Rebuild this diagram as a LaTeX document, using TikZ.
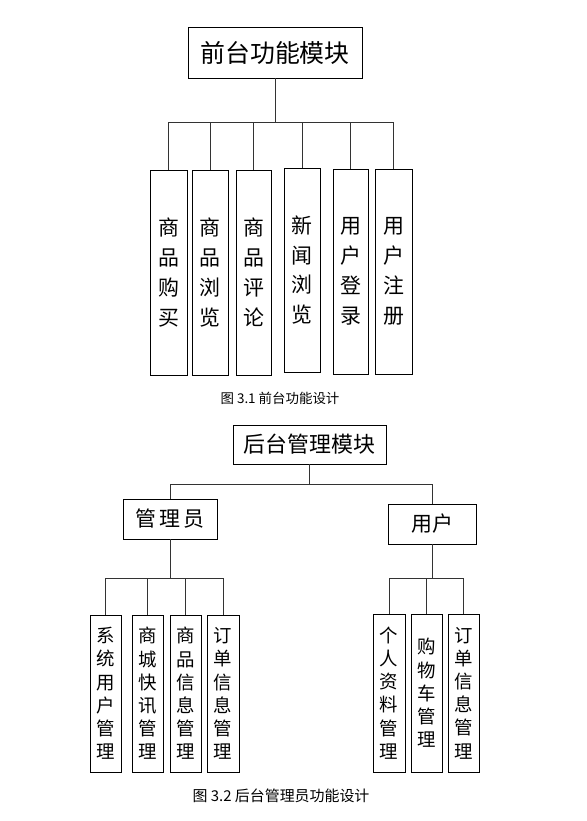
\documentclass[tikz,border=0pt]{standalone}
\usepackage{fontspec}
\newfontfamily\cjk{Noto Sans CJK SC}
\begin{document}
\begin{tikzpicture}[x=1bp,y=-1bp,
  box/.style={draw=black,line width=0.8bp,inner sep=0pt,font=\cjk,align=center},
  vbox/.style={box,font={\cjk\fontsize{21}{30}\selectfont}},
  sbox/.style={box,font={\cjk\fontsize{18.5}{23.3}\selectfont}},
  wire/.style={draw=black!80,line width=0.8bp},
  captext/.style={font=\cjk,inner sep=0pt}]
\useasboundingbox (0,0) rectangle (587,821);
\fill[white] (0,0) rectangle (587,821);
% ---------- front module
\node[box,minimum width=174bp,minimum height=51bp,font={\cjk\fontsize{25}{30}\selectfont}] (top) at (275,52.5) {前台功能模块};
\node[vbox,minimum width=37bp,minimum height=205bp] (c1) at (168.5,272.5) {商\\品\\购\\买};
\node[vbox,minimum width=36bp,minimum height=205bp] (c2) at (210,272.5) {商\\品\\浏\\览};
\node[vbox,minimum width=35bp,minimum height=205bp] (c3) at (253.5,272.5) {商\\品\\评\\论};
\node[vbox,minimum width=36bp,minimum height=204bp] (c4) at (302,270) {新\\闻\\浏\\览};
\node[vbox,minimum width=35bp,minimum height=205bp] (c5) at (350.5,271.5) {用\\户\\登\\录};
\node[vbox,minimum width=37bp,minimum height=205bp] (c6) at (393.5,271.5) {用\\户\\注\\册};
\coordinate (bus1) at (275,122);
\draw[wire] (top.south) -- (bus1);
\foreach \n in {c1,c2,c3,c4,c5,c6} \draw[wire] (\n.north) |- (bus1);
\node[captext,font={\cjk\fontsize{13.5}{16}\selectfont}] (cap1) at (280,398) {图 3.1 前台功能设计};
% ---------- back module
\node[box,minimum width=153bp,minimum height=39bp,font={\cjk\fontsize{22}{26}\selectfont}] (back) at (309.5,444.5) {后台管理模块};
\node[box,minimum width=94bp,minimum height=40bp,font={\cjk\fontsize{21}{26}\selectfont}] (admin) at (170,519) {管\,理\,员};
\node[box,minimum width=88bp,minimum height=40bp,font={\cjk\fontsize{21}{26}\selectfont}] (user) at (432,524) {用户};
\coordinate (bus2) at (309.5,484);
\draw[wire] (back.south) -- (bus2);
\draw[wire] (admin.north) |- (bus2);
\draw[wire] (user.north) |- (bus2);
\node[sbox,minimum width=31bp,minimum height=157bp] (a1) at (105.5,693.5) {系\\统\\用\\户\\管\\理};
\node[sbox,minimum width=31bp,minimum height=157bp] (a2) at (147.5,693.5) {商\\城\\快\\讯\\管\\理};
\node[sbox,minimum width=31bp,minimum height=157bp] (a3) at (185.5,693.5) {商\\品\\信\\息\\管\\理};
\node[sbox,minimum width=32bp,minimum height=157bp] (a4) at (223,693.5) {订\\单\\信\\息\\管\\理};
\coordinate (bus3) at (170,578);
\draw[wire] (admin.south) -- (bus3);
\foreach \n in {a1,a2,a3,a4} \draw[wire] (\n.north) |- (bus3);
\node[sbox,minimum width=32bp,minimum height=158bp] (u1) at (389,693) {个\\人\\资\\料\\管\\理};
\node[sbox,minimum width=31bp,minimum height=158bp] (u2) at (426.5,693) {购\\物\\车\\管\\理};
\node[sbox,minimum width=31bp,minimum height=158bp] (u3) at (463.5,693) {订\\单\\信\\息\\管\\理};
\coordinate (bus4) at (432,578);
\draw[wire] (user.south) -- (bus4);
\foreach \n in {u1,u2,u3} \draw[wire] (\n.north) |- (bus4);
\node[captext,font={\cjk\fontsize{15}{18}\selectfont}] (cap2) at (281,796) {图 3.2 后台管理员功能设计};
\end{tikzpicture}
\end{document}
